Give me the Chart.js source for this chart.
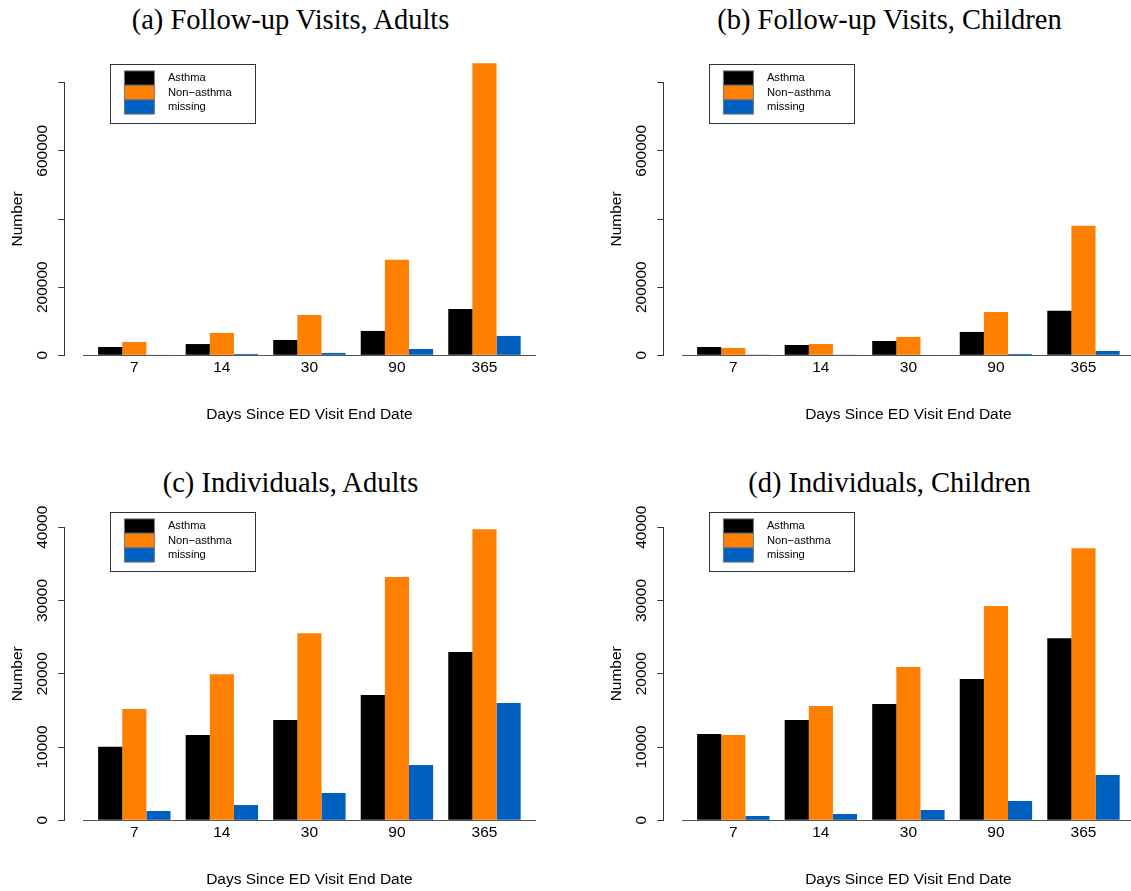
<!DOCTYPE html>
<html lang="en">
<head>
  <meta charset="UTF-8">
  <title>ED Visit Follow-up</title>
  <script src="https://cdn.jsdelivr.net/npm/chart.js"></script>
  <style>
    html, body { margin: 0; width: 1131px; height: 891px; overflow: hidden; background: #fff; position: relative; }
    canvas { position: absolute; }
    .ttl { position: absolute; width: 600px; text-align: center; font: 28.5px/1 "Liberation Serif", serif; color: #000; white-space: nowrap; }
  </style>
</head>
<body>
  <div class="ttl" style="left:-9.5px;top:5.6px">(a) Follow-up Visits, Adults</div>
  <div class="ttl" style="left:589.5px;top:5.6px">(b) Follow-up Visits, Children</div>
  <div class="ttl" style="left:-9.5px;top:469px">(c) Individuals, Adults</div>
  <div class="ttl" style="left:589.5px;top:469px">(d) Individuals, Children</div>

  <canvas id="chartA" width="581" height="426" style="left:0;top:0"></canvas>
  <canvas id="chartB" width="581" height="426" style="left:599px;top:0"></canvas>
  <canvas id="chartC" width="581" height="426" style="left:0;top:465px"></canvas>
  <canvas id="chartD" width="581" height="426" style="left:599px;top:465px"></canvas>

  <script>
    // categories and series
    const days = ["7", "14", "30", "90", "365"];
    const seriesNames = ["Asthma", "Non\u2212asthma", "missing"];
    const seriesColors = ["#000000", "#ff7f00", "#0060c0"];

    // (a) follow-up visits, adults
    const visitsAdultAsthma = [24400, 33000, 45000, 71500, 136000];
    const visitsAdultNon = [39000, 65600, 118500, 280300, 856800];
    const visitsAdultMissing = [1200, 4000, 7000, 18600, 56800];

    // (b) follow-up visits, children
    const visitsChildAsthma = [24400, 30300, 42000, 68600, 130400];
    const visitsChildNon = [21600, 33300, 53900, 127400, 380300];
    const visitsChildMissing = [800, 1000, 1500, 4000, 12700];

    // (c) individuals, adults
    const peopleAdultAsthma = [10050, 11640, 13690, 17100, 22960];
    const peopleAdultNon = [15190, 19950, 25550, 33200, 39740];
    const peopleAdultMissing = [1270, 2090, 3730, 7550, 16000];

    // (d) individuals, children
    const peopleChildAsthma = [11780, 13690, 15870, 19280, 24870];
    const peopleChildNon = [11640, 15600, 20920, 29240, 37150];
    const peopleChildMissing = [590, 860, 1410, 2640, 6180];

    // y axis ticks (R skips labels that would overlap)
    const visitTicks = [0, 200000, 400000, 600000, 800000];
    const visitTickLabels = ["0", "200000", "", "600000", ""];
    const peopleTicks = [0, 10000, 20000, 30000, 40000];
    const peopleTickLabels = ["0", "10000", "20000", "30000", "40000"];

    const SANS = '"Liberation Sans", Arial, sans-serif';

    // rotated y labels, x base line and the boxed legend, R style
    const rStyle = {
      id: "rStyle",
      afterDraw(chart, args, opts) {
        const ctx = chart.ctx;
        const ys = chart.scales.y;
        ctx.save();

        ctx.font = "15.5px " + SANS;
        ctx.fillStyle = "#000";
        ctx.textAlign = "center";
        ctx.textBaseline = "middle";
        ys.ticks.forEach((t, i) => {
          if (!t.label) return;
          ctx.save();
          ctx.translate(opts.labelX, ys.getPixelForTick(i));
          ctx.rotate(-Math.PI / 2);
          ctx.fillText(t.label, 0, 0);
          ctx.restore();
        });

        const first = chart.getDatasetMeta(0).data;
        const last = chart.getDatasetMeta(chart.data.datasets.length - 1).data;
        const groupRight = last[0].x + last[0].width / 2;
        const gap = (first[1].x - first[1].width / 2) - groupRight;
        const x0 = first[0].x - first[0].width / 2 - gap;
        const lb = last[last.length - 1];
        const x1 = lb.x + lb.width / 2 + gap;
        const y0 = Math.round(ys.getPixelForValue(0)) + 0.5;
        ctx.strokeStyle = "#555";
        ctx.lineWidth = 1.2;
        ctx.beginPath();
        ctx.moveTo(x0, y0);
        ctx.lineTo(x1, y0);
        ctx.stroke();

        const L = opts.legend;
        ctx.lineWidth = 1;
        ctx.strokeStyle = "#333";
        ctx.strokeRect(Math.round(L.x) + 0.5, Math.round(L.y) + 0.5, L.w, L.h);
        ctx.font = "11.2px " + SANS;
        ctx.textAlign = "left";
        chart.data.datasets.forEach((ds, i) => {
          const sy = L.y + L.top + i * L.box;
          ctx.fillStyle = ds.backgroundColor;
          ctx.fillRect(L.x + L.boxX, sy, L.boxW, L.box);
          ctx.strokeStyle = "#777";
          ctx.strokeRect(L.x + L.boxX, sy, L.boxW, L.box);
          ctx.fillStyle = "#000";
          ctx.fillText(ds.label, L.x + L.textX, sy + L.box / 2);
        });
        ctx.restore();
      }
    };

    function makeChart(id, series, ticks, tickLabels, top, legendY) {
      const datasets = series.map((vals, k) => ({
        label: seriesNames[k],
        data: vals.map((v, i) => ({ x: i + 1, y: v })),
        backgroundColor: seriesColors[k],
        borderWidth: 0,
        clip: false
      }));
      return new Chart(document.getElementById(id), {
        type: "bar",
        data: { datasets },
        plugins: [rStyle],
        options: {
          responsive: false,
          animation: false,
          devicePixelRatio: 1,
          layout: { padding: { top: top, left: 0, right: 26.5, bottom: 0 } },
          categoryPercentage: 0.827,
          barPercentage: 1,
          plugins: {
            legend: { display: false },
            tooltip: { enabled: false },
            title: { display: false },
            rStyle: {
              labelX: 42.7,
              legend: { x: 110.4, y: legendY, w: 145, h: 59, top: 6.6, box: 14.4, boxX: 14, boxW: 30, textX: 57.5 }
            }
          },
          scales: {
            x: {
              type: "linear",
              min: 0.2,
              max: 5.8,
              offset: false,
              grid: { display: false, offset: false },
              border: { display: false },
              afterBuildTicks: s => { s.ticks = days.map((d, i) => ({ value: i + 1 })); },
              afterFit: s => { s.height = 70.7; },
              ticks: {
                autoSkip: false,
                maxRotation: 0,
                padding: -5,
                color: "#000",
                font: { family: SANS, size: 15.5 },
                callback: (v, i) => days[i]
              },
              title: {
                display: true,
                text: "Days Since ED Visit End Date",
                color: "#000",
                font: { family: SANS, size: 15.5 },
                padding: { top: 0, bottom: 1.7 }
              }
            },
            y: {
              min: 0,
              max: ticks[ticks.length - 1],
              afterBuildTicks: s => { s.ticks = ticks.map(v => ({ value: v })); },
              afterFit: s => { s.width = 64.3; },
              grid: { display: true, drawOnChartArea: false, drawTicks: true, tickLength: 6, color: "#333", lineWidth: 1 },
              border: { display: true, color: "#333", width: 1 },
              ticks: { display: false, callback: (v, i) => tickLabels[i] },
              title: {
                display: true,
                text: "Number",
                color: "#000",
                font: { family: SANS, size: 15.5 },
                padding: { top: 8.2, bottom: 0 }
              }
            }
          }
        }
      });
    }

    makeChart("chartA", [visitsAdultAsthma, visitsAdultNon, visitsAdultMissing], visitTicks, visitTickLabels, 82.7, 64.3);
    makeChart("chartB", [visitsChildAsthma, visitsChildNon, visitsChildMissing], visitTicks, visitTickLabels, 82.7, 64.3);
    makeChart("chartC", [peopleAdultAsthma, peopleAdultNon, peopleAdultMissing], peopleTicks, peopleTickLabels, 62.3, 47.3);
    makeChart("chartD", [peopleChildAsthma, peopleChildNon, peopleChildMissing], peopleTicks, peopleTickLabels, 62.3, 47.3);
  </script>
</body>
</html>
